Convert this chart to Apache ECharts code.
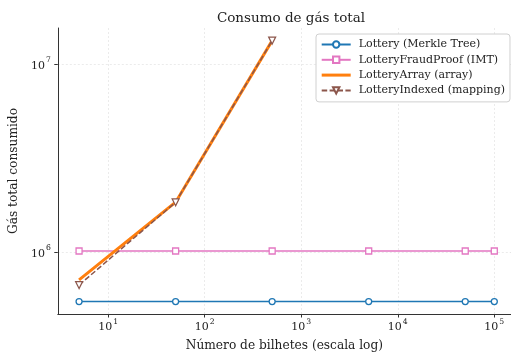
<!DOCTYPE html>
<html>
<head>
<meta charset="utf-8">
<script src="https://cdn.jsdelivr.net/npm/echarts@6/dist/echarts.min.js"></script>
<style>
html,body{margin:0;padding:0;background:#fff;}
#chart{width:511px;height:358px;}
</style>
</head>
<body>
<div id="chart"></div>
<script>
const tickets = [5, 50, 500, 5000, 50000, 100000];
const merkle = [545000, 545000, 545000, 545000, 545000, 545000];
const fraudProof = [1012000, 1012000, 1012000, 1012000, 1012000, 1012000];
const arrayTickets = [5, 50, 500];
const arrayGas = [710000, 1840000, 13300000];
const indexedTickets = [5, 50, 500];
const indexedGas = [667000, 1837000, 13300000];
const seriesNames = ['Lottery (Merkle Tree)', 'LotteryFraudProof (IMT)', 'LotteryArray (array)', 'LotteryIndexed (mapping)'];

const FONT = '"DejaVu Serif", serif';
const pair = (xs, ys) => xs.map((x, i) => [x, ys[i]]);
const supLabel = v => {
  const e = Math.round(Math.log10(v));
  return '{b|10}{s|' + e + '}';
};
const rich = {
  b: {fontFamily: FONT, fontSize: 11, color: '#222', lineHeight: 15, verticalAlign: 'bottom'},
  s: {fontFamily: FONT, fontSize: 7.7, color: '#222', lineHeight: 15, verticalAlign: 'top', padding: [0, 0, 0, 1]}
};

const chart = echarts.init(document.getElementById('chart'), null, {renderer: 'canvas'});
chart.setOption({
  animation: false,
  backgroundColor: '#fff',
  title: {
    text: 'Consumo de gás total',
    left: 286, top: 6, textAlign: 'center',
    textStyle: {fontFamily: FONT, fontSize: 13.5, fontWeight: 'normal', color: '#222'}
  },
  grid: {left: 57.7, right: 0, top: 28, bottom: 44, containLabel: false},
  legend: {
    orient: 'vertical', left: 316, top: 34,
    padding: [4, 5, 5, 4.7], itemGap: 2.3,
    itemWidth: 29, itemHeight: 8,
    backgroundColor: '#fff', borderColor: '#d0d0d0', borderWidth: 1, borderRadius: 3,
    textStyle: {fontFamily: FONT, fontSize: 11, color: '#222', lineHeight: 13, padding: [0, 0, 0, 3]},
    data: [
      {name: seriesNames[0]},
      {name: seriesNames[1]},
      {name: seriesNames[2], icon: 'path://M0,0H29V3H0Z'},
      {name: seriesNames[3]}
    ]
  },
  xAxis: {
    type: 'log', logBase: 10,
    min: 3.01, max: 148900,
    name: 'Número de bilhetes (escala log)', nameLocation: 'middle', nameGap: 26,
    nameTextStyle: {fontFamily: FONT, fontSize: 12.2, color: '#222'},
    axisLine: {lineStyle: {color: '#333', width: 1}},
    axisTick: {length: 3.5, lineStyle: {color: '#333'}},
    axisLabel: {formatter: supLabel, rich: rich, margin: 4, showMinLabel: false, showMaxLabel: false},
    splitLine: {show: true, showMinLine: false, showMaxLine: false, lineStyle: {color: '#e6e6e6', type: [2, 2], width: 0.8}},
    minorTick: {show: false}
  },
  yAxis: {
    type: 'log', logBase: 10,
    min: 468000, max: 15520000,
    name: 'Gás total consumido', nameLocation: 'middle', nameGap: 27, nameRotate: 90,
    nameTextStyle: {fontFamily: FONT, fontSize: 12.2, color: '#222'},
    axisLine: {show: true, lineStyle: {color: '#333', width: 1}},
    axisTick: {show: true, length: 3.5, lineStyle: {color: '#333'}},
    axisLabel: {formatter: supLabel, rich: rich, margin: 7, showMinLabel: false, showMaxLabel: false},
    splitLine: {show: true, showMinLine: false, showMaxLine: false, lineStyle: {color: '#e6e6e6', type: [2, 2], width: 0.8}}
  },
  series: [
    {
      name: seriesNames[0], type: 'line', data: pair(tickets, merkle),
      symbol: 'circle', symbolSize: 6, showAllSymbol: true,
      lineStyle: {color: '#1f77b4', width: 1.5},
      itemStyle: {color: '#fff', borderColor: '#1f77b4', borderWidth: 1.3},
      z: 2
    },
    {
      name: seriesNames[1], type: 'line', data: pair(tickets, fraudProof),
      symbol: 'rect', symbolSize: 6, showAllSymbol: true,
      lineStyle: {color: '#e377c2', width: 1.5},
      itemStyle: {color: '#fff', borderColor: '#e377c2', borderWidth: 1.3},
      z: 3
    },
    {
      name: seriesNames[2], type: 'line', data: pair(arrayTickets, arrayGas),
      symbol: 'none',
      lineStyle: {color: '#ff7f0e', width: 3},
      itemStyle: {color: '#ff7f0e'},
      z: 4
    },
    {
      name: seriesNames[3], type: 'line', data: pair(indexedTickets, indexedGas),
      symbol: 'triangle', symbolRotate: 180, symbolSize: 7, showAllSymbol: true,
      lineStyle: {color: '#8c564b', width: 1.5, type: [5.5, 2.4]},
      itemStyle: {color: '#fff', borderColor: '#8c564b', borderWidth: 1.2},
      z: 5
    }
  ]
});
</script>
</body>
</html>
